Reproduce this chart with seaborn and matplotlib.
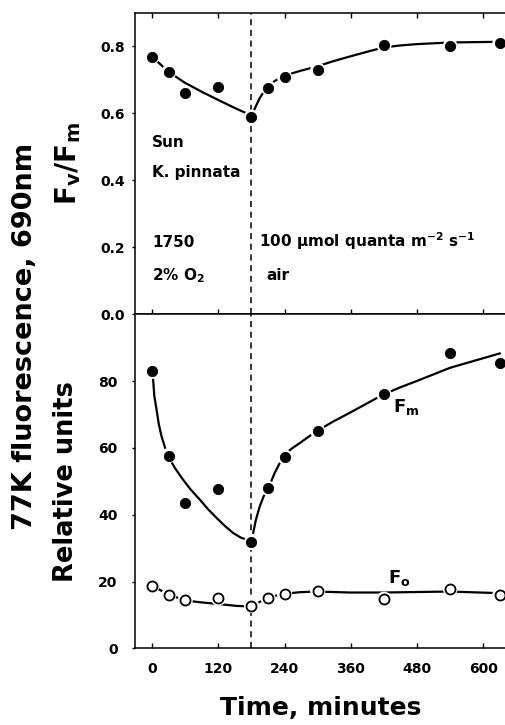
import matplotlib
matplotlib.use("Agg")
import matplotlib.pyplot as plt
import seaborn as sns
import numpy as np

sns.set_theme(style="white")
plt.rcParams['font.family'] = ['DejaVu Sans']
plt.rcParams['mathtext.fontset'] = 'dejavusans'
plt.rcParams['text.color'] = 'black'
plt.rcParams['axes.labelcolor'] = 'black'
plt.rcParams['xtick.color'] = 'black'
plt.rcParams['ytick.color'] = 'black'

# ---- data ----
time_min = [0, 30, 60, 120, 180, 210, 240, 300, 420, 540, 630]
fv_fm = [0.77, 0.723, 0.661, 0.68, 0.589, 0.677, 0.708, 0.730, 0.805, 0.80, 0.81]
fm = [83, 57.7, 43.5, 47.7, 31.7, 47.9, 57.3, 65, 76, 88.5, 85.5]
fo = [18.8, 15.9, 14.5, 15.0, 12.8, 15.0, 16.2, 17.3, 14.7, 17.9, 16.0]

# fitted curves, two segments each
fvfm_c1_t = [0, 29, 59, 89.5, 120, 150, 177]
fvfm_c1_v = [0.77, 0.725, 0.692, 0.665, 0.64, 0.616, 0.596]
fvfm_c2_t = [182, 188, 195, 202, 210, 222, 237, 252, 268, 298, 328, 358, 389, 419, 449, 479, 540, 630]
fvfm_c2_v = [0.60, 0.622, 0.646, 0.664, 0.68, 0.697, 0.71, 0.719, 0.727, 0.74, 0.756, 0.77, 0.784, 0.797, 0.803, 0.807, 0.812, 0.814]

fm_c1_t = [1.8, 4, 8, 12, 17, 23, 29, 42, 56, 70, 86.5, 101, 117, 132, 147, 160, 171, 178]
fm_c1_v = [80.5, 75.5, 71.5, 67.2, 63.5, 60.3, 57.5, 53.8, 50.5, 47.5, 44.5, 41.7, 39, 36.6, 34.5, 33.2, 32.5, 32.2]
fm_c2_t = [183, 188, 195, 202, 210, 222, 237.5, 252, 268, 283, 298, 328, 358, 389, 419, 449, 479, 540, 630]
fm_c2_v = [34.5, 38.5, 42.5, 45.5, 47.7, 52.5, 57.5, 59.7, 61.5, 63.3, 65, 67.9, 70.5, 73.3, 76, 78.1, 80, 84, 88.3]

fo_c1_t = [0, 15, 30, 45, 60, 76, 92, 105, 118, 135, 153, 167, 180]
fo_c1_v = [19, 17.4, 16, 15.2, 14.5, 14.0, 13.7, 13.5, 13.3, 13.0, 12.7, 12.6, 12.5]
fo_c2_t = [180, 195, 210, 223, 237, 268, 298, 358, 419, 540, 630]
fo_c2_v = [12.5, 13.9, 15, 15.7, 16.3, 16.8, 17, 16.7, 16.7, 17, 16.5]

xticks = [0, 120, 240, 360, 480, 600]
yticks_top = [0.0, 0.2, 0.4, 0.6, 0.8]
yticks_bot = [0, 20, 40, 60, 80]

fig = plt.figure(figsize=(5.06, 7.25), dpi=100)
W, H = 506, 725
left = 135 / W
ax1 = fig.add_axes([left, 1 - 314.3 / H, 1.0 - left, (314.3 - 13) / H])
ax2 = fig.add_axes([left, 1 - 648.3 / H, 1.0 - left, (648.3 - 314.3) / H])

lw_curve = 1.6
for ax in (ax1, ax2):
    ax.set_facecolor('white')
    ax.set_xlim(-31, 641)
    for s in ax.spines.values():
        s.set_color('black')
        s.set_linewidth(1.1)
    ax.spines['right'].set_visible(False)
    ax.axvline(180, color='black', lw=1.1, ls=(0, (4, 3)), zorder=1)
    ax.set_xticks(xticks)
    ax.tick_params(axis='x', direction='in', length=3.5, width=1, color='black')
    ax.tick_params(axis='y', direction='out', length=2.5, width=1, color='black',
                   left=True)

# top panel
sns.lineplot(x=fvfm_c1_t, y=fvfm_c1_v, ax=ax1, color='black', lw=lw_curve,
             sort=False, estimator=None, zorder=2)
sns.lineplot(x=fvfm_c2_t, y=fvfm_c2_v, ax=ax1, color='black', lw=lw_curve,
             sort=False, estimator=None, zorder=2)
sns.scatterplot(x=time_min, y=fv_fm, ax=ax1, s=120, color='white',
                edgecolor='none', zorder=3, clip_on=False)
sns.scatterplot(x=time_min, y=fv_fm, ax=ax1, s=55, color='black',
                edgecolor='black', zorder=4, clip_on=False)
ax1.set_ylim(0, 0.9)
ax1.set_yticks(yticks_top)
ax1.set_yticklabels([f"{v:.1f}" for v in yticks_top])
ax1.tick_params(axis='x', top=True, bottom=True, labelbottom=False)
ax1.tick_params(axis='y', pad=5)
ax1.set_ylabel(r'$\mathbf{F_v/F_m}$', fontsize=20, labelpad=12, color='black')

# bottom panel
for t, v in ((fm_c1_t, fm_c1_v), (fm_c2_t, fm_c2_v), (fo_c1_t, fo_c1_v), (fo_c2_t, fo_c2_v)):
    sns.lineplot(x=t, y=v, ax=ax2, color='black', lw=lw_curve,
                 sort=False, estimator=None, zorder=2)
sns.scatterplot(x=time_min, y=fm, ax=ax2, s=120, color='white',
                edgecolor='none', zorder=3, clip_on=False)
sns.scatterplot(x=time_min, y=fm, ax=ax2, s=55, color='black',
                edgecolor='black', zorder=4, clip_on=False)
sns.scatterplot(x=time_min, y=fo, ax=ax2, s=120, color='white',
                edgecolor='none', zorder=3, clip_on=False)
sns.scatterplot(x=time_min, y=fo, ax=ax2, s=52, color='white',
                edgecolor='black', linewidth=1.3, zorder=4, clip_on=False)
ax2.set_ylim(0, 100)
ax2.set_yticks(yticks_bot)
ax2.set_yticklabels([str(v) for v in yticks_bot])
ax2.set_xticklabels([str(v) for v in xticks])
ax2.tick_params(axis='x', top=False, bottom=True, pad=10)
ax2.tick_params(axis='y', pad=10)
ax2.set_ylabel('Relative units', fontsize=18.5, fontweight='bold', labelpad=14, color='black')
ax2.set_xlabel('Time, minutes', fontsize=18, fontweight='bold', labelpad=14, color='black')

for ax in (ax1, ax2):
    for lab in ax.get_xticklabels() + ax.get_yticklabels():
        lab.set_fontsize(10)
        lab.set_fontweight('bold')
        lab.set_color('black')

# annotations
tk = dict(fontsize=11, fontweight='bold', color='black', va='baseline', ha='left')
ax1.text(0, 0.501, 'Sun', **tk)
ax1.text(0, 0.411, 'K. pinnata', **tk)
ax1.text(0, 0.202, '1750', **tk)
ax1.text(0, 0.102, r'2% O$_\mathbf{2}$', **tk)
ax1.text(193, 0.202, r'100 µmol quanta m$^{\mathbf{-2}}$ s$^{\mathbf{-1}}$', **tk)
ax1.text(207, 0.102, 'air', **tk)

ax2.text(436, 70.6, r'$\mathbf{F_m}$', fontsize=13, color='black', va='baseline')
ax2.text(428, 19.6, r'$\mathbf{F_o}$', fontsize=13, color='black', va='baseline')

fig.text(25 / W, 1 - 336 / H, '77K fluorescence, 690nm', rotation=90,
         fontsize=19.5, fontweight='bold', ha='center', va='center', color='black')

fig.savefig('out.png', dpi=100, facecolor='white')
